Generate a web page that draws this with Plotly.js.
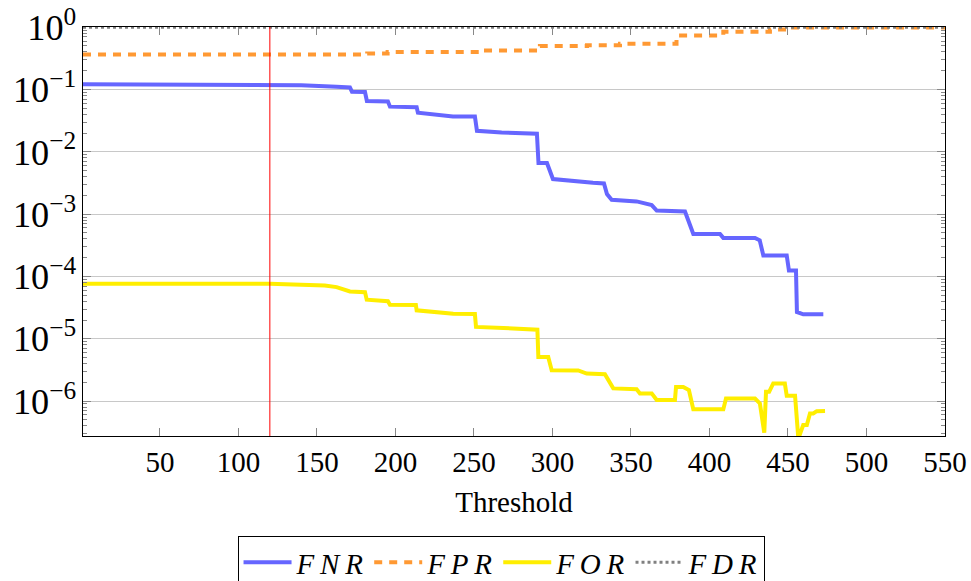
<!DOCTYPE html>
<html>
<head>
<meta charset="utf-8">
<script src="https://cdn.plot.ly/plotly-3.0.1.min.js"></script>
<style>html,body{margin:0;padding:0;background:#fff;}#chart{width:971px;height:581px;}</style>
</head>
<body>
<div id="chart"></div>
<script>
// ---- data ----
const fnrX = [1, 120, 140, 162.5, 171, 172.3, 180.6, 181.8, 195.2, 196.5, 213.5, 214.3, 225.2, 236.6, 250.6, 251.9, 267.6, 282.5, 290.1, 291.1, 296.5, 300.3, 316, 325.8, 332.8, 334.7, 337.7, 353.6, 363.2, 366.4, 384.4, 389.7, 406.7, 408.8, 429, 432, 434.3, 449.2, 450.6, 455.1, 455.7, 459.7, 472.5];
const fnrY = [0.121, 0.121, 0.117, 0.111, 0.108, 0.0922, 0.091, 0.0655, 0.064, 0.0531, 0.052, 0.0425, 0.0401, 0.037, 0.037, 0.0217, 0.0204, 0.0199, 0.0195, 0.00659, 0.00659, 0.00366, 0.0033, 0.00319, 0.0031, 0.0021, 0.0017, 0.0016, 0.0014, 0.00114, 0.0011, 0.000482, 0.000482, 0.000416, 0.000416, 0.00038, 0.000217, 0.000217, 0.000125, 0.000125, 0.0000269, 0.0000247, 0.0000247];

const fprX = [1, 182, 195, 254, 292, 322, 343, 379, 408.8, 438.5, 449.5, 550];
const fprY = [0.366, 0.379, 0.398, 0.424, 0.497, 0.515, 0.54, 0.736, 0.841, 0.919, 0.99, 1.0];

const forX = [1, 120, 155, 162.5, 171, 180.6, 181.7, 195.2, 196.5, 213, 213.5, 225.2, 236.8, 250.6, 251.3, 268.7, 281.4, 290.4, 291, 297.3, 299.5, 316.4, 321.8, 333.4, 338.7, 353.6, 355.7, 363.2, 366.4, 378, 378.7, 383.3, 386.9, 389.7, 408.8, 410.5, 429, 432.1, 434.9, 436, 438, 440.6, 448, 449.2, 454.5, 456.6, 459.7, 462, 464, 466.1, 468.3, 473.6];
const forY = [7.64e-5, 7.64e-5, 7.18e-5, 6.75e-5, 5.75e-5, 5.6e-5, 4.24e-5, 4.0e-5, 3.52e-5, 3.5e-5, 2.86e-5, 2.68e-5, 2.53e-5, 2.5e-5, 1.55e-5, 1.49e-5, 1.42e-5, 1.4e-5, 5.12e-6, 5.12e-6, 3.13e-6, 3.1e-6, 2.77e-6, 2.7e-6, 1.6e-6, 1.55e-6, 1.33e-6, 1.33e-6, 1.04e-6, 1.04e-6, 1.69e-6, 1.69e-6, 1.5e-6, 7.37e-7, 7.37e-7, 1.1e-6, 1.1e-6, 9.2e-7, 3.11e-7, 1.41e-6, 1.41e-6, 1.92e-6, 1.92e-6, 1.22e-6, 1.22e-6, 2.5e-7, 4.13e-7, 4.13e-7, 6.35e-7, 6.35e-7, 6.9e-7, 6.95e-7];

const fdrX = [1, 550];
const fdrY = [1, 1];

const thresholdMark = 120;
const xTicks = [50, 100, 150, 200, 250, 300, 350, 400, 450, 500, 550];
const seriesNames = ['<i>F\u2009N\u2009R</i>', '<i>F\u2009P\u2009R</i>', '<i>F\u2009O\u2009R</i>', '<i>F\u2009D\u2009R</i>'];

// ---- chart ----
const FONT = 'Liberation Serif, Times New Roman, serif';
const traces = [
  {x: fnrX, y: fnrY, name: seriesNames[0], mode: 'lines', line: {color: 'rgb(102,102,255)', width: 4}},
  {x: fprX, y: fprY, name: seriesNames[1], mode: 'lines', line: {color: 'rgb(255,153,51)', width: 4, dash: '8px,7px', shape: 'hv'}},
  {x: forX, y: forY, name: seriesNames[2], mode: 'lines', line: {color: 'rgb(255,238,0)', width: 4}},
  {x: fdrX, y: fdrY, name: seriesNames[3], mode: 'lines', line: {color: 'rgb(128,128,128)', width: 3, dash: '3px,3px'}}
];

const layout = {
  width: 971, height: 581,
  margin: {l: 83, r: 26, t: 27, b: 145},
  paper_bgcolor: '#fff', plot_bgcolor: '#fff',
  font: {family: FONT, size: 29, color: '#000'},
  showlegend: true,
  legend: {
    orientation: 'h', xref: 'container', x: 0.516, xanchor: 'center',
    yref: 'container', y: 0.0775, yanchor: 'top',
    bordercolor: '#000', borderwidth: 1, bgcolor: '#fff',
    font: {family: FONT, size: 29, color: '#000'},
    itemwidth: 48, tracegroupgap: 0
  },
  xaxis: {
    type: 'linear', range: [1, 550], automargin: false,
    tickmode: 'array', tickvals: xTicks, ticktext: xTicks.map(String),
    ticks: 'inside', ticklen: 8, tickcolor: '#888', tickwidth: 1,
    showline: true, linecolor: '#000', linewidth: 1, mirror: 'ticks',
    showgrid: false, zeroline: false,
    tickfont: {family: FONT, size: 29},
    title: {text: 'Threshold', font: {family: FONT, size: 29}, standoff: 14}
  },
  yaxis: {
    type: 'log', range: [-6.56, 0.003], automargin: false,
    dtick: 1, tick0: 0, exponentformat: 'power',
    labelalias: {'1': '10<sup>0</sup>'},
    ticks: 'inside', ticklen: 8, tickcolor: '#888', tickwidth: 1,
    minor: {ticks: 'inside', ticklen: 4, tickcolor: '#888', dtick: 'D1', showgrid: false},
    showline: true, linecolor: '#000', linewidth: 1, mirror: 'ticks',
    showgrid: true, gridcolor: '#c8c8c8', gridwidth: 1, zeroline: false,
    tickfont: {family: FONT, size: 29}
  },
  shapes: [{type: 'line', xref: 'x', yref: 'paper', x0: thresholdMark, x1: thresholdMark, y0: 0, y1: 1,
            line: {color: 'rgb(255,0,0)', width: 1}}]
};

Plotly.newPlot('chart', traces, layout, {displayModeBar: false, staticPlot: true});
</script>
</body>
</html>
